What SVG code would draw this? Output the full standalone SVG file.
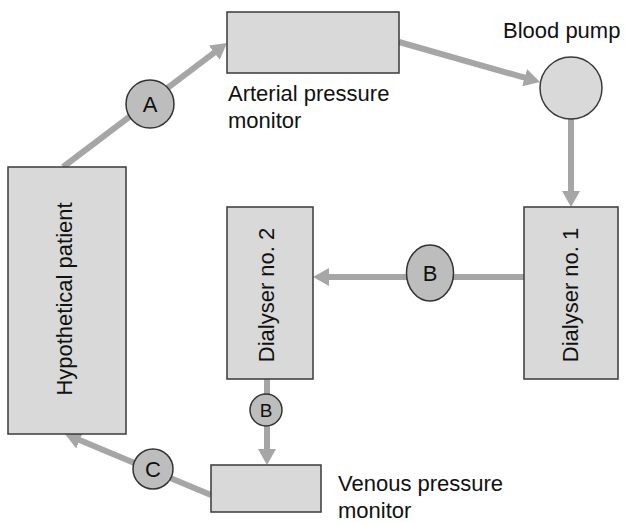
<svg xmlns="http://www.w3.org/2000/svg" width="626" height="523" viewBox="0 0 626 523">
<style>
.box{fill:#d9d9d9;stroke:#3a3a3a;stroke-width:1.5}
.con{fill:none;stroke:#a6a6a6;stroke-width:6;marker-end:url(#ah)}
.lab{fill:#bdbdbd;stroke:#333;stroke-width:1.5}
text{font-family:"Liberation Sans",Arial,sans-serif;fill:#111}
.t{font-size:22px}
.c{font-size:22px;text-anchor:middle}
</style>
<defs>
<marker id="ah" markerUnits="userSpaceOnUse" markerWidth="18" markerHeight="18" refX="10" refY="9" orient="auto">
<path d="M0,0 L16,9 L0,18 z" fill="#a6a6a6"/>
</marker>
</defs>
<rect width="626" height="523" fill="#fff"/>
<g id="connectors">
<line class="con" x1="63" y1="167" x2="222.2" y2="46.6"/>
<line class="con" x1="399" y1="42" x2="534.2" y2="80.4"/>
<line class="con" x1="571" y1="119" x2="571" y2="201"/>
<line class="con" x1="524" y1="277" x2="319" y2="277"/>
<line class="con" x1="267" y1="379" x2="267" y2="459"/>
<line class="con" x1="211" y1="495" x2="70.5" y2="436.3"/>
<g id="label-A"><circle class="lab" cx="150" cy="104" r="24"/><text class="c" x="150" y="112">A</text></g>
<g id="label-B1"><ellipse class="lab" cx="430" cy="273" rx="23.5" ry="28"/><text class="c" x="430" y="281">B</text></g>
<g id="label-B2"><circle class="lab" cx="266" cy="410" r="16"/><text class="c" x="266" y="417" style="font-size:19px">B</text></g>
<g id="label-C"><circle class="lab" cx="153" cy="469" r="20"/><text class="c" x="153" y="477">C</text></g>
</g>
<g id="arterial">
<rect class="box" x="227" y="12" width="172" height="61"/>
<text class="t" x="228" y="101">Arterial pressure</text>
<text class="t" x="228" y="128">monitor</text>
</g>
<g id="pump">
<circle class="box" cx="571" cy="88" r="31"/>
<text class="t" x="503" y="38">Blood pump</text>
</g>
<g id="dialyser1">
<rect class="box" x="524" y="207" width="94" height="172"/>
<text class="t" transform="translate(578,295) rotate(-90)" text-anchor="middle">Dialyser no. 1</text>
</g>
<g id="dialyser2">
<rect class="box" x="227" y="207" width="86" height="172"/>
<text class="t" transform="translate(274,295) rotate(-90)" text-anchor="middle">Dialyser no. 2</text>
</g>
<g id="patient">
<rect class="box" x="8" y="167" width="118" height="267"/>
<text class="t" transform="translate(72,299) rotate(-90)" text-anchor="middle">Hypothetical patient</text>
</g>
<g id="venous">
<rect class="box" x="211" y="465" width="110" height="47"/>
<text class="t" x="338" y="491">Venous pressure</text>
<text class="t" x="338" y="518">monitor</text>
</g>
</svg>
